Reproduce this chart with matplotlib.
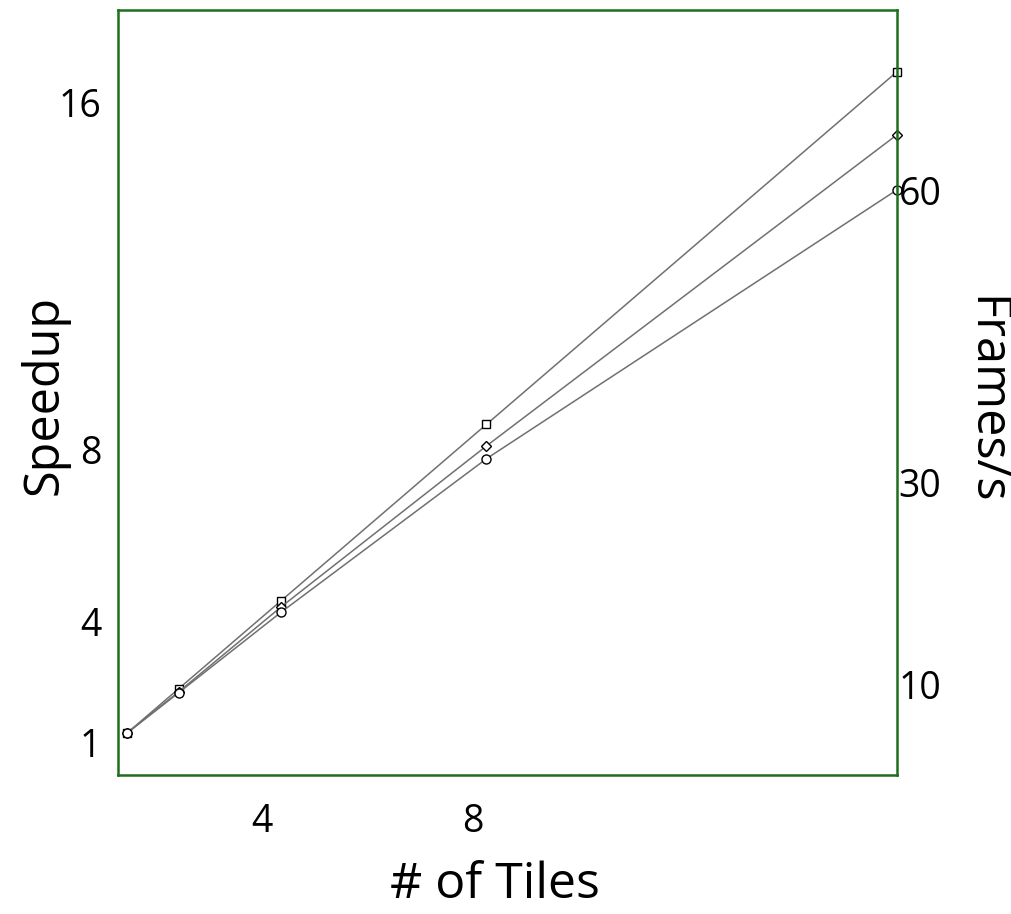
import matplotlib
matplotlib.use("Agg")
import matplotlib.pyplot as plt

plt.rcParams['font.family'] = ['Open Sans', 'DejaVu Sans']

tiles = [1, 2, 4, 8, 16]
speedup_ideal = [1.0, 2.0, 4.0, 8.0, 16.0]
speedup_mid = [1.0, 1.93, 3.86, 7.51, 14.57]
speedup_low = [1.0, 1.91, 3.74, 7.22, 13.32]

x_tick_pos = [3.63, 7.73]
x_tick_labels = ["4", "8"]
y_tick_pos = [15.3, 7.44, 3.52, 0.79]
y_tick_labels = ["16", "8", "4", "1"]
fps_tick_pos = [60, 30, 9.2]
fps_tick_labels = ["60", "30", "10"]

W, H = 1012, 914
fig = plt.figure(figsize=(W / 100, H / 100), dpi=100)
ax = fig.add_axes([118 / W, 139 / H, 779 / W, 765 / H])

green = "#1e6e1e"
line_kw = dict(color="#707070", lw=1.1, markerfacecolor="white",
               markeredgecolor="black", markeredgewidth=1.0, clip_on=False)
ax.plot(tiles, speedup_ideal, marker="s", markersize=6, **line_kw)
ax.plot(tiles, speedup_mid, marker="D", markersize=5.5, **line_kw)
ax.plot(tiles, speedup_low, marker="o", markersize=6.5, **line_kw)

ax.set_xlim(0.82, 16.0)
ax.set_ylim(0.045, 17.4)
ax.set_xticks(x_tick_pos)
ax.set_xticklabels(x_tick_labels)
ax.set_yticks(y_tick_pos)
ax.set_yticklabels(y_tick_labels)
ax.tick_params(axis="both", length=0, labelsize=27)
ax.tick_params(axis="y", pad=12)
ax.tick_params(axis="x", pad=20)
for s in ax.spines.values():
    s.set_color(green)
    s.set_linewidth(1.8)

ax2 = ax.twinx()
ax2.set_ylim(-0.1, 78.6)
ax2.set_yticks(fps_tick_pos)
ax2.set_yticklabels(fps_tick_labels)
ax2.tick_params(axis="y", length=0, labelsize=27, pad=1)
for s in ax2.spines.values():
    s.set_visible(False)

fig.text(45 / W, 1 - 395 / H, "Speedup", rotation=90, ha="center", va="center", fontsize=35)
fig.text(985 / W, 1 - 400 / H, "Frames/s", rotation=-90, ha="center", va="center", fontsize=35)
fig.text(495 / W, 1 - 885 / H, "# of Tiles", ha="center", va="center", fontsize=36)

fig.savefig("out.png", dpi=100)
